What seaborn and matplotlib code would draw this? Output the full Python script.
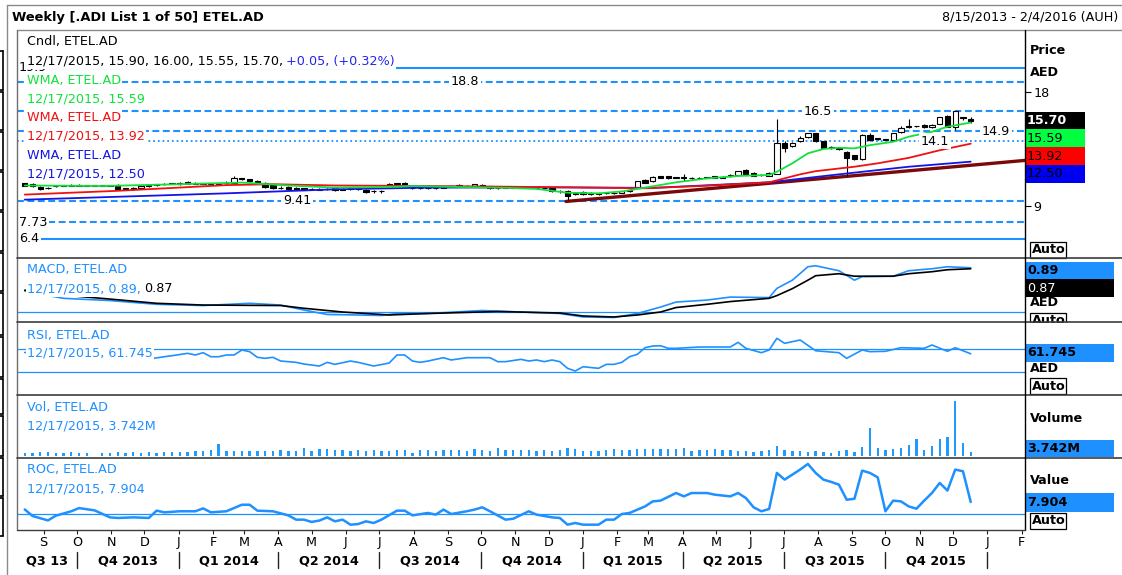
import numpy as np
import pandas as pd
import matplotlib
matplotlib.use("Agg")
import matplotlib.pyplot as plt
import seaborn as sns
from matplotlib.patches import Rectangle
from matplotlib.lines import Line2D
from matplotlib.transforms import blended_transform_factory, Bbox

sns.set_theme(style="white")
plt.rcParams['font.family'] = ['DejaVu Sans']
plt.rcParams['font.size'] = 9.2

# ---------------- data ----------------
start_date = "2013-08-15"
end_date = "2016-02-04"

opens = [10.80, 10.75, 10.50, 10.40, 10.55, 10.60, 10.60, 10.65, 10.60, 10.60,
         10.60, 10.60, 10.65, 10.35, 10.45, 10.40, 10.55, 10.65, 10.70, 10.70,
         10.85, 10.90, 10.85, 10.75, 10.80, 10.75, 10.80, 10.85, 11.20, 11.10,
         10.95, 10.85, 10.65, 10.45, 10.50, 10.40, 10.40, 10.35, 10.35, 10.35,
         10.40, 10.30, 10.35, 10.40, 10.30, 10.20, 10.15, 10.45, 10.75, 10.85,
         10.45, 10.40, 10.40, 10.40, 10.45, 10.55, 10.60, 10.55, 10.55, 10.65,
         10.55, 10.45, 10.45, 10.45, 10.45, 10.45, 10.40, 10.40, 10.40, 10.20,
         10.20, 9.95, 10.10, 10.05, 9.95, 10.00, 10.00, 10.05, 10.15, 10.45,
         11.05, 10.95, 11.35, 11.35, 11.25, 11.25, 11.20, 11.20, 11.25, 11.35,
         11.30, 11.35, 11.45, 11.85, 11.60, 11.45, 11.40, 11.55, 14.00, 13.70,
         14.10, 14.45, 14.75, 14.10, 13.60, 13.60, 13.30, 13.00, 12.70, 14.60,
         14.30, 14.25, 14.20, 14.85, 15.20, 15.30, 15.40, 15.20, 15.50, 16.10,
         15.25, 15.95, 15.90]
highs = [10.85, 10.80, 10.55, 10.50, 10.65, 10.65, 10.70, 10.70, 10.65, 10.60,
         10.65, 10.65, 10.70, 10.45, 10.50, 10.60, 10.70, 10.75, 10.80, 10.85,
         10.90, 10.95, 10.90, 10.85, 10.85, 10.85, 10.95, 11.40, 11.25, 11.15,
         11.05, 10.90, 10.70, 10.55, 10.55, 10.50, 10.45, 10.40, 10.40, 10.40,
         10.45, 10.40, 10.45, 10.45, 10.35, 10.30, 10.25, 10.85, 10.85, 10.90,
         10.50, 10.45, 10.45, 10.45, 10.50, 10.65, 10.70, 10.65, 10.75, 10.70,
         10.60, 10.50, 10.50, 10.50, 10.50, 10.50, 10.45, 10.45, 10.45, 10.25,
         10.25, 10.10, 10.15, 10.10, 10.05, 10.05, 10.10, 10.20, 10.35, 11.00,
         11.10, 11.35, 11.40, 11.40, 11.30, 11.55, 11.30, 11.30, 11.30, 11.40,
         11.35, 11.50, 11.80, 11.90, 11.65, 11.50, 11.65, 15.90, 14.10, 14.05,
         14.50, 14.80, 14.80, 14.15, 13.70, 13.65, 13.35, 13.05, 14.65, 14.75,
         14.40, 14.30, 14.80, 15.30, 15.90, 15.35, 15.45, 15.45, 16.05, 16.15,
         16.50, 16.05, 16.00]
lows = [10.55, 10.50, 10.30, 10.35, 10.50, 10.55, 10.55, 10.60, 10.55, 10.60,
        10.55, 10.55, 10.30, 10.30, 10.30, 10.40, 10.50, 10.60, 10.65, 10.70,
        10.65, 10.70, 10.70, 10.70, 10.70, 10.70, 10.75, 10.85, 11.05, 10.90,
        10.85, 10.45, 10.35, 10.35, 10.30, 10.25, 10.25, 10.25, 10.25, 10.30,
        10.20, 10.25, 10.30, 10.30, 10.05, 10.00, 10.05, 10.45, 10.70, 10.55,
        10.35, 10.35, 10.35, 10.35, 10.40, 10.50, 10.55, 10.50, 10.55, 10.55,
        10.35, 10.35, 10.40, 10.40, 10.40, 10.40, 10.35, 10.35, 10.10, 10.05,
        9.45, 9.90, 9.90, 9.90, 9.90, 9.95, 9.95, 10.00, 10.10, 10.40,
        10.80, 10.90, 11.20, 11.15, 11.20, 11.00, 11.15, 11.15, 11.20, 11.20,
        11.20, 11.30, 11.40, 11.50, 11.35, 11.35, 11.35, 11.50, 13.30, 13.65,
        14.05, 14.40, 14.05, 13.55, 13.50, 13.40, 11.40, 12.65, 12.65, 14.15,
        14.20, 14.20, 14.15, 14.80, 15.15, 15.20, 15.15, 15.15, 15.45, 15.20,
        15.00, 15.80, 15.55]
closes = [10.60, 10.55, 10.35, 10.45, 10.60, 10.60, 10.65, 10.60, 10.60, 10.60,
          10.60, 10.60, 10.35, 10.40, 10.35, 10.55, 10.65, 10.70, 10.75, 10.85,
          10.70, 10.75, 10.75, 10.80, 10.75, 10.80, 10.85, 11.20, 11.10, 10.95,
          10.90, 10.50, 10.40, 10.40, 10.35, 10.30, 10.30, 10.35, 10.30, 10.35,
          10.25, 10.35, 10.40, 10.35, 10.10, 10.15, 10.20, 10.75, 10.75, 10.60,
          10.40, 10.40, 10.40, 10.40, 10.45, 10.60, 10.60, 10.60, 10.70, 10.60,
          10.40, 10.40, 10.45, 10.45, 10.45, 10.40, 10.40, 10.40, 10.15, 10.15,
          9.80, 10.05, 9.95, 9.95, 10.00, 10.00, 10.05, 10.15, 10.30, 10.95,
          10.85, 11.30, 11.25, 11.20, 11.25, 11.25, 11.20, 11.25, 11.25, 11.25,
          11.25, 11.45, 11.75, 11.55, 11.40, 11.45, 11.60, 14.00, 13.60, 14.00,
          14.40, 14.75, 14.10, 13.60, 13.60, 13.50, 12.80, 12.70, 14.60, 14.20,
          14.30, 14.25, 14.75, 15.15, 15.30, 15.30, 15.20, 15.40, 16.00, 15.25,
          16.50, 16.00, 15.70]

# weighted moving averages (at these weeks)
wma_fast_weeks = [0, 10, 20, 28, 34, 40, 47, 50, 56, 63, 66, 70, 74, 77, 80, 84, 88, 92,
                  96, 97, 99, 101, 103, 105, 107, 109, 112, 114, 117, 119, 122]
wma_fast = [10.62, 10.58, 10.72, 10.85, 10.62, 10.45, 10.50, 10.58, 10.50, 10.42, 10.35,
            10.05, 10.00, 10.15, 10.45, 10.87, 11.18, 11.37, 11.45, 11.70, 12.37, 13.16,
            13.50, 13.60, 13.55, 13.80, 14.07, 14.47, 14.86, 15.26, 15.59]
wma_mid_weeks = [0, 12, 26, 32, 40, 52, 63, 70, 80, 88, 96, 100, 102, 107, 110, 114, 118, 122]
wma_mid = [9.90, 10.20, 10.65, 10.72, 10.62, 10.58, 10.52, 10.47, 10.40, 10.60, 10.87,
           11.50, 11.75, 12.10, 12.37, 12.80, 13.40, 13.92]
wma_slow_weeks = [0, 12, 26, 40, 52, 63, 70, 81, 96, 105, 114, 122]
wma_slow = [9.50, 9.73, 10.00, 10.32, 10.45, 10.47, 10.47, 10.43, 10.87, 11.50, 12.10, 12.50]

trend_weeks = [69.8, 129.0]
trend_prices = [9.36, 12.60]

level_values = [19.9, 18.8, 16.5, 14.9, 14.1, 9.41, 7.73, 6.4]
level_labels = ["19.9", "18.8", "16.5", "14.9", "14.1", "9.41", "7.73", "6.4"]

macd_weeks = [0, 2, 5, 11, 17, 23, 29, 33, 36, 39, 43, 46, 48, 52, 59, 64, 69, 72, 76, 79,
              82, 84, 88, 91, 96, 97, 99, 101, 102, 105, 107, 108, 112, 114, 117, 119, 122]
macd_vals = [0.42, 0.36, 0.275, 0.23, 0.155, 0.13, 0.175, 0.14, 0.04, -0.05, -0.06, -0.07,
             -0.03, -0.03, 0.03, 0.0, -0.03, -0.10, -0.11, -0.03, 0.10, 0.20, 0.24, 0.30,
             0.29, 0.475, 0.64, 0.91, 0.93, 0.83, 0.64, 0.71, 0.72, 0.83, 0.87, 0.91, 0.89]
signal_weeks = [0, 5, 11, 17, 23, 33, 36, 41, 47, 52, 61, 69, 72, 76, 79, 82, 84, 88, 91, 96,
                97, 99, 101, 102, 105, 107, 112, 114, 117, 119, 122]
signal_vals = [0.44, 0.34, 0.26, 0.175, 0.14, 0.13, 0.075, 0.0, -0.06, -0.03, 0.01, -0.02,
               -0.08, -0.10, -0.06, 0.0, 0.09, 0.155, 0.21, 0.275, 0.33, 0.47, 0.64, 0.73,
               0.77, 0.72, 0.72, 0.77, 0.81, 0.85, 0.87]

rsi_weeks = [0, 3, 6, 9, 12, 14, 16, 18, 19, 21, 22, 23, 24, 25, 26, 27, 28, 29, 30, 31, 32,
             33, 35, 36, 38, 39, 40, 42, 43, 45, 47, 48, 49, 50, 51, 52, 54, 55, 57, 60, 61,
             62, 64, 65, 66, 67, 68, 69, 70, 71, 72, 74, 75, 76, 77, 78, 79, 80, 81, 82, 83,
             84, 87, 91, 92, 93, 95, 96, 97, 98, 100, 102, 105, 106, 108, 109, 111, 113,
             116, 117, 119, 120, 122]
rsi_vals = [64, 60, 58, 61, 56, 53, 52.6, 56.6, 58.4, 62.5, 59.6, 63.6, 56.6, 56.6, 59.6,
            59.6, 68.3, 65.4, 55.6, 53.8, 55.6, 49.1, 46.8, 43.9, 40.4, 46.8, 43.3, 49.1,
            46.8, 40.4, 45.6, 59.6, 59.6, 49.1, 46.8, 49.1, 54.9, 50.9, 54.9, 54.9, 48, 48,
            52, 49.1, 50.9, 48, 50.9, 48, 36.4, 31.7, 39.2, 36.4, 43.3, 43.3, 46.8, 56.6,
            60.7, 72.3, 75.2, 75.7, 71.2, 71.2, 73.5, 73.5, 81.6, 71.2, 63.6, 68.3, 88.6,
            79.9, 85.7, 67, 63.6, 53.8, 68.3, 65.4, 66, 72.3, 71.2, 77, 66, 72.3, 61.745]

volume_m = [3.5, 3, 4, 4, 3.5, 3, 4, 3.5, 3.5, 0,
            3.5, 3, 4, 3.5, 4, 3.5, 4, 3.5, 4, 4,
            4.5, 4.5, 5.5, 5.5, 6.5, 12.5,
            5.5, 5, 5.5, 5, 5.5, 5, 5.5, 6, 5.5, 5.5,
            8, 5.5, 7.5, 7.5, 6.5,
            6, 5.5, 6, 5.5, 6, 5.5, 5, 6, 6, 3,
            6, 6, 5.5, 6, 6, 6.5, 5.5, 7, 6, 5.5,
            7.7, 6, 6, 6, 6, 5, 6, 5, 6, 7.7,
            7, 5, 5, 5, 6, 6.7, 5.7, 5.7, 7, 6.7,
            7, 6.7, 7, 7, 7.7, 5, 5.7, 5.7, 6.7, 5.7,
            6, 5, 5, 4, 5, 6, 10, 6, 5, 5,
            4, 5, 4, 3.3, 5, 6, 3.7, 8.7, 28.3, 7.7,
            6, 7.3, 7.7, 11, 17, 5.7, 10, 17, 18.7, 55,
            12.7, 3.742]

roc_weeks = [0, 1, 3, 4, 6, 7, 9, 11, 12, 14, 16, 17, 18, 20, 22, 23, 24, 26, 28, 29, 30,
             32, 34, 35, 36, 37, 38, 39, 40, 41, 42, 43, 44, 45, 46, 48, 49, 50, 52, 53, 54,
             55, 57, 58, 59, 60, 62, 63, 65, 66, 68, 69, 70, 71, 72, 74, 75, 76, 77, 78, 80,
             81, 82, 84, 85, 86, 88, 89, 91, 92, 93, 94, 95, 96, 97, 98, 99, 100, 101, 102,
             103, 104, 105, 106, 107, 108, 109, 110, 111, 112, 113, 114, 115, 116, 117, 118,
             119, 120, 121, 122]
roc_vals = [3.0, -1.3, -4.2, -1.1, 1.8, 3.9, 2.4, -2.2, -2.6, -2.2, -2.6, 2.2, 1.1, 1.8,
            1.8, 3.7, 1.1, 1.8, 6.1, 6.1, 2.2, 1.8, -0.9, -3.7, -3.7, -5.2, -4.3, -2.2, -4.8,
            -3.7, -7.0, -6.6, -4.8, -5.9, -3.7, 2.2, 2.2, -0.9, 0.7, -0.4, 2.9, 0.0, 1.8,
            2.9, 4.4, 1.8, -3.7, -3.1, 1.8, -0.4, -2.2, -2.6, -7.0, -5.9, -7.0, -7.0, -3.7,
            -3.7, 0.0, 0.7, 5.0, 8.3, 8.8, 13.8, 11.6, 13.8, 13.8, 12.7, 11.6, 13.8, 10.5,
            4.4, 1.8, 3.3, 27.0, 22.6, 25.9, 29.2, 32.9, 27.0, 22.6, 21.1, 19.3, 9.4, 10.0,
            28.5, 27.0, 24.1, 1.8, 8.8, 8.3, 5.0, 3.5, 8.8, 13.8, 20.4, 15.4, 29.2, 28.1,
            7.904]

change_abs = 0.05
change_pct = 0.32
last_date = "12/17/2015"

month_labels = ["S", "O", "N", "D", "J", "F", "M", "A", "M", "J", "J", "A", "S", "O", "N",
                "D", "J", "F", "M", "A", "M", "J", "J", "A", "S", "O", "N", "D", "J", "F"]
quarter_labels = ["Q3 13", "Q4 2013", "Q1 2014", "Q2 2014", "Q3 2014", "Q4 2014",
                  "Q1 2015", "Q2 2015", "Q3 2015", "Q4 2015"]

# ---------------- figure ----------------
W, H = 1122, 575
fig = plt.figure(figsize=(W / 100, H / 100), dpi=100)
fig.patch.set_facecolor("white")

def fx(x):
    return x / W

def fy(y):
    return 1 - y / H

DB = "#1E90FF"
GREEN = "#12E03C"
RED = "#F01010"
BLUE = "#1414E6"
FS = 9.2

t0 = pd.Timestamp(start_date)
XMIN = -1.0
XMAX = (pd.Timestamp(end_date) - t0).days / 7.0
XL, XR = 17, 1025

def add_panel(top, bot, ylim):
    ax = fig.add_axes([fx(XL), fy(bot), fx(XR) - fx(XL), (bot - top) / H])
    ax.set_facecolor("white")
    for s in ax.spines.values():
        s.set_visible(False)
    ax.set_xlim(XMIN, XMAX)
    ax.set_ylim(*ylim)
    ax.set_xticks([])
    ax.set_yticks([])
    ax.set_xlabel("")
    ax.set_ylabel("")
    return ax

# price panel
ax_p = add_panel(30, 258, (4.895, 22.895))
x = np.arange(len(closes))
o, h, l, c = map(np.array, (opens, highs, lows, closes))

DASH = (0, (3.3, 1.7))
DOT = (0, (1, 1.6))
styles = ["-", DASH, DASH, DASH, DOT, DASH, DASH, "-"]
for val, ls in zip(level_values, styles):
    ax_p.axhline(val, color=DB, lw=1.3 if ls == DOT else 1.5, ls=ls, zorder=1)

sns.lineplot(x=trend_weeks, y=trend_prices, ax=ax_p, color="#7A0A0A", linewidth=2.4,
             zorder=3)
up = c >= o
ax_p.vlines(x, l, h, color="black", lw=0.8, zorder=4)
bottom = np.minimum(o, c)
height = np.maximum(np.abs(c - o), 0.03)
ax_p.bar(x[up], height[up], bottom=bottom[up], width=0.68, color="white",
         edgecolor="black", linewidth=0.8, zorder=5)
ax_p.bar(x[~up], height[~up], bottom=bottom[~up], width=0.68, color="black",
         edgecolor="black", linewidth=0.8, zorder=5)
sns.lineplot(x=wma_slow_weeks, y=wma_slow, ax=ax_p, color=BLUE, linewidth=1.3, zorder=6)
sns.lineplot(x=wma_mid_weeks, y=wma_mid, ax=ax_p, color=RED, linewidth=1.3, zorder=6)
sns.lineplot(x=wma_fast_weeks, y=wma_fast, ax=ax_p, color=GREEN, linewidth=1.3, zorder=7)
ax_p.set_xlim(XMIN, XMAX)
ax_p.set_ylim(4.895, 22.895)
ax_p.set_yticks([9, 18])
ax_p.set_yticklabels(["9", "18"])
ax_p.yaxis.tick_right()
ax_p.tick_params(axis="y", right=True, left=False, length=4, width=0.8, direction="out",
                 pad=2, labelsize=FS, colors="black")
ax_p.set_xlabel(""); ax_p.set_ylabel("")

# level labels
label_px = [19, 465, 818, 996, 935, 297, 19, 19]
label_ha = ["left", "center", "center", "center", "center", "center", "left", "left"]
btr = blended_transform_factory(ax_p.transAxes, ax_p.transData)
for val, lab, px, ha in zip(level_values, level_labels, label_px, label_ha):
    ax_p.text((px - XL) / (XR - XL), val, lab, transform=btr, ha=ha, va="center",
              fontsize=FS, color="black", zorder=8,
              bbox=dict(boxstyle="square,pad=0.12", fc="white", ec="none"))

# MACD panel
ax_m = add_panel(258, 322, (-0.201, 1.086))
ax_m.axhline(0, color=DB, lw=0.9, zorder=1)
sns.lineplot(x=macd_weeks, y=macd_vals, ax=ax_m, color=DB, linewidth=1.2, zorder=3)
sns.lineplot(x=signal_weeks, y=signal_vals, ax=ax_m, color="black", linewidth=1.2, zorder=4)
ax_m.set_xlim(XMIN, XMAX); ax_m.set_xlabel(""); ax_m.set_ylabel("")

# RSI panel
ax_r = add_panel(322, 395, (-10, 117))
ax_r.axhline(70, color=DB, lw=0.9, zorder=1)
ax_r.axhline(30, color=DB, lw=0.9, zorder=1)
sns.lineplot(x=rsi_weeks, y=rsi_vals, ax=ax_r, color=DB, linewidth=1.2, zorder=3)
ax_r.set_xlim(XMIN, XMAX); ax_r.set_xlabel(""); ax_r.set_ylabel("")

# Volume panel
ax_v = add_panel(395, 458, (-2, 61))
ax_v.bar(x, volume_m, width=0.3, color="#1E9BFF", linewidth=0, zorder=3)
ax_v.set_xlim(XMIN, XMAX)

# ROC panel
ax_c = add_panel(458, 530, (-10.5, 36.8))
ax_c.axhline(0, color=DB, lw=0.9, zorder=1)
sns.lineplot(x=roc_weeks, y=roc_vals, ax=ax_c, color=DB, linewidth=1.8, zorder=3)
ax_c.set_xlim(XMIN, XMAX); ax_c.set_xlabel(""); ax_c.set_ylabel("")

# month ticks
month_starts = pd.date_range("2013-09-01", periods=len(month_labels), freq="MS")
month_x = [(d - t0).days / 7.0 for d in month_starts]
ax_c.set_xticks(month_x)
ax_c.set_xticklabels(month_labels)
ax_c.tick_params(axis="x", bottom=True, length=3, width=0.8, direction="out", pad=1.5,
                 labelsize=FS, colors="#222222", labelcolor="black")

# quarter labels
q_bounds = pd.date_range("2013-10-01", periods=len(quarter_labels), freq="QS")
qb_x = [(d - t0).days / 7.0 for d in q_bounds]
btf = blended_transform_factory(ax_c.transData, fig.transFigure)
edges = [XMIN] + qb_x
for i, lab in enumerate(quarter_labels):
    xc = (edges[i] + edges[i + 1]) / 2
    ax_c.text(xc, fy(561), lab, transform=btf, ha="center", va="center", fontsize=FS,
              fontweight="bold", color="black", clip_on=False)
for xb in qb_x:
    ax_c.add_line(Line2D([xb, xb], [fy(552), fy(568)], transform=btf, color="#222222",
                         lw=1.0, clip_on=False))

# ---------------- frame lines ----------------
def fline(x0, y0, x1, y1, color="#555555", lw=1.0, z=10):
    fig.add_artist(Line2D([fx(x0), fx(x1)], [fy(y0), fy(y1)], transform=fig.transFigure,
                          color=color, lw=lw, zorder=z))

def frect(x0, y0, x1, y1, fc, ec="none", lw=0.0, z=6):
    fig.add_artist(Rectangle((fx(x0), fy(y1)), fx(x1) - fx(x0), (y1 - y0) / H,
                             transform=fig.transFigure, fc=fc, ec=ec, lw=lw, zorder=z))

def ftxt(xp, yp, s, color="black", weight="normal", ha="left", bg=None, z=7, size=FS):
    kw = {}
    if bg:
        kw["bbox"] = dict(boxstyle="square,pad=0.1", fc=bg, ec="none")
    return fig.text(fx(xp), fy(yp), s, color=color, fontweight=weight, ha=ha,
                    va="center", fontsize=size, zorder=z, **kw)

renderer = fig.canvas.get_renderer()

def ftxt2(xp, yp, s1, c1, s2, c2, bg="white", z=7):
    t1 = ftxt(xp, yp, s1, color=c1, bg=bg, z=z)
    bb = t1.get_window_extent(renderer=renderer)
    x2 = bb.x1 * (W / fig.bbox.width) - 1.0
    ftxt(x2, yp, s2, color=c2, bg=bg, z=z)

# title
ftxt(12, 17, "Weekly [.ADI List 1 of 50] ETEL.AD", weight="bold", size=9.4)
ftxt(1118, 17, f"{pd.Timestamp(start_date):%-m/%-d/%Y} - {pd.Timestamp(end_date):%-m/%-d/%Y} (AUH)",
     ha="right")

# price legend
ftxt(27, 42, "Cndl, ETEL.AD", bg="white")
ftxt2(27, 61, f"{last_date}, {opens[-1]:.2f}, {highs[-1]:.2f}, {lows[-1]:.2f}, {closes[-1]:.2f}, ",
      "black", f"+{change_abs:.2f}, (+{change_pct:.2f}%)", "#2424F0")
ftxt(27, 81, "WMA, ETEL.AD", color=GREEN, bg="white")
ftxt(27, 99, f"{last_date}, {wma_fast[-1]:.2f}", color=GREEN, bg="white")
ftxt(27, 117, "WMA, ETEL.AD", color=RED, bg="white")
ftxt(27, 136, f"{last_date}, {wma_mid[-1]:.2f}", color=RED, bg="white")
ftxt(27, 155, "WMA, ETEL.AD", color=BLUE, bg="white")
ftxt(27, 174, f"{last_date}, {wma_slow[-1]:.2f}", color=BLUE, bg="white")

# sub-panel legends
ftxt(27, 270, "MACD, ETEL.AD", color=DB, bg="white")
ftxt2(27, 289, f"{last_date}, {macd_vals[-1]:.2f}, ", DB, f"{signal_vals[-1]:.2f}", "black")
ftxt(27, 336, "RSI, ETEL.AD", color=DB, bg="white")
ftxt(27, 353, f"{last_date}, {rsi_vals[-1]:.3f}", color=DB, bg="white")
ftxt(27, 407, "Vol, ETEL.AD", color=DB, bg="white")
ftxt(27, 426, f"{last_date}, {volume_m[-1]:.3f}M", color=DB, bg="white")
ftxt(27, 469, "ROC, ETEL.AD", color=DB, bg="white")
ftxt(27, 489, f"{last_date}, {roc_vals[-1]:.3f}", color=DB, bg="white")

# right column: price
ftxt(1030, 51, "Price", weight="bold")
ftxt(1030, 72, "AED", weight="bold")
frect(1025, 112, 1085, 129, "black")
ftxt(1027, 120.5, f"{closes[-1]:.2f}", color="white", weight="bold")
frect(1025, 129, 1085, 147, "#00FF40")
ftxt(1027, 138, f"{wma_fast[-1]:.2f}")
frect(1025, 147, 1085, 165, "#FF0000")
ftxt(1027, 156, f"{wma_mid[-1]:.2f}")
frect(1025, 165, 1085, 183, "#0000F0")
ftxt(1027, 174, f"{wma_slow[-1]:.2f}")

def auto_box(yc):
    frect(1030, yc - 8, 1066, yc + 8, "white", ec="black", lw=0.9, z=6)
    ftxt(1032, yc, "Auto", weight="bold", z=7)

auto_box(250)
# MACD column
frect(1025, 262, 1114, 279, DB)
ftxt(1027, 270.5, f"{macd_vals[-1]:.2f}", weight="bold")
frect(1025, 279, 1114, 297, "black")
ftxt(1027, 288, f"{signal_vals[-1]:.2f}", color="white")
ftxt(1030, 302, "AED", weight="bold")
auto_box(321)
frect(1026, 322.5, 1121, 334, "white", z=8)
# RSI column
ftxt(1030, 350, "Value", weight="bold")
ftxt(1030, 368, "AED", weight="bold")
frect(1025, 344, 1114, 362, DB, z=7.5)
ftxt(1027, 353, f"{rsi_vals[-1]:.3f}", weight="bold", z=8)
auto_box(386)
# Volume column
ftxt(1030, 419, "Volume", weight="bold")
frect(1025, 440, 1114, 457, DB)
ftxt(1027, 448.5, f"{volume_m[-1]:.3f}M", weight="bold")
# ROC column
ftxt(1030, 481, "Value", weight="bold")
frect(1025, 493, 1114, 512, DB)
ftxt(1027, 502.5, f"{roc_vals[-1]:.3f}", weight="bold")
auto_box(521)

# separators and borders
fline(7, 5, 1122, 5, color="#8A8A8A")
fline(7, 5, 7, 575, color="#8A8A8A")
fline(17, 30, 1122, 30, color="#8A8A8A")
fline(17, 30, 17, 530, color="#6E6E6E")
for yy in (258, 322, 395, 458):
    fline(17, yy, 1122, yy, color="#3C3C3C", lw=1.2, z=11)
fline(1025, 30, 1025, 530, color="black", lw=1.0, z=11)
fline(17, 530, 1025, 530, color="#3C3C3C", lw=1.0, z=11)

# small bracket marks at far left edge
br = [50, 91, 131, 171, 211, 252, 292, 336, 378, 415, 457, 497, 537]
for y0, y1 in zip(br[:-1], br[1:]):
    fline(3, y0 + 1, 3, y1 - 1, color="black", lw=1.2)
    fline(0, y0 + 1, 3, y0 + 1, color="black", lw=1.2)
    fline(0, y1 - 1, 3, y1 - 1, color="black", lw=1.2)

fig.savefig("out.png", dpi=100, facecolor="white")
